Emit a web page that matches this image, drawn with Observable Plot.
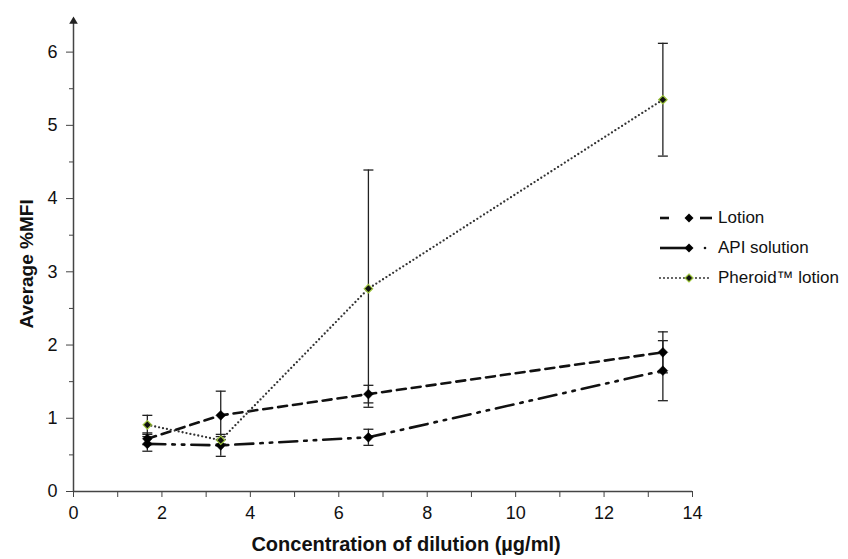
<!DOCTYPE html>
<html>
<head>
<meta charset="utf-8">
<script src="https://cdn.jsdelivr.net/npm/d3@7"></script>
<script src="https://cdn.jsdelivr.net/npm/@observablehq/plot@0.6"></script>
<style>
  html, body { margin: 0; padding: 0; background: #fff; }
  #wrap { position: relative; width: 848px; height: 559px; font-family: "Liberation Sans", Arial, sans-serif; }
  #wrap [aria-label$="tick label"] { font-size: 18px; }
  #legend { position: absolute; left: 658px; top: 203px; font-size: 17px; color: #111; white-space: nowrap; }
  #legend .row { display: flex; align-items: center; height: 30px; white-space: nowrap; }
  #legend svg { margin-right: 4px; flex: none; }
</style>
</head>
<body>
<div id="wrap"><div id="legend"></div></div>
<script>
// ---- data ----
const concentrations = [1.67, 3.33, 6.67, 13.33];
const lotionMean = [0.72, 1.04, 1.33, 1.90];
const lotionErr  = [0.08, 0.33, 0.12, 0.28];
const apiMean    = [0.65, 0.63, 0.74, 1.65];
const apiErr     = [0.10, 0.15, 0.11, 0.41];
const pheroidMean = [0.91, 0.70, 2.77, 5.35];
const pheroidErr  = [0.13, 0.05, 1.62, 0.77];
const seriesNames = ["Lotion", "API solution", "Pheroid\u2122  lotion"];
const xTickLabels = [0, 2, 4, 6, 8, 10, 12, 14];
const xMinorTicks = [1, 3, 5, 7, 9, 11, 13];
const yTickLabels = [0, 1, 2, 3, 4, 5, 6];
const yMinorTicks = [0.5, 1.5, 2.5, 3.5, 4.5, 5.5];
const xTitle = "Concentration of dilution (\u00b5g/ml)";
const yTitle = "Average %MFI";

// ---- build rows ----
const means = [lotionMean, apiMean, pheroidMean];
const errs = [lotionErr, apiErr, pheroidErr];
const rows = [];
seriesNames.forEach((s, i) => concentrations.forEach((c, j) =>
  rows.push({series: s, x: c, y: means[i][j], e: errs[i][j]})));
const bySeries = s => rows.filter(d => d.series === s);

const styles = {
  [seriesNames[0]]: {stroke: "#111", strokeWidth: 2.6, strokeDasharray: "9 6"},
  [seriesNames[1]]: {stroke: "#111", strokeWidth: 2.6, strokeDasharray: "18 7 2.5 7 2.5 7"},
  [seriesNames[2]]: {stroke: "#333", strokeWidth: 2.3, strokeDasharray: "0 4", strokeLinecap: "round"}
};

const capSymbol = {
  draw(ctx, size) { const w = Math.sqrt(size / Math.PI); ctx.moveTo(-w, 0); ctx.lineTo(w, 0); }
};

const chart = Plot.plot({
  width: 848, height: 559,
  marginLeft: 73, marginRight: 156, marginTop: 15, marginBottom: 68,
  style: {fontFamily: "'Liberation Sans', Arial, sans-serif", fontSize: "18px", color: "#111", background: "white"},
  x: {domain: [0, 14]},
  y: {domain: [0, 6.5]},
  marks: [
    // axes
    Plot.axisY({ticks: yTickLabels, tickSize: 7, tickPadding: 9, tickFormat: d => String(d), label: null, stroke: "#444"}),
    Plot.axisY({ticks: yMinorTicks, tickSize: 4, tickFormat: () => "", label: null, stroke: "#444"}),
    Plot.axisX({ticks: xTickLabels, tickSize: 6, tickPadding: 9, tickFormat: d => String(d), label: null, stroke: "#444"}),
    Plot.axisX({ticks: xMinorTicks, tickSize: 6, tickFormat: () => "", label: null, stroke: "#444"}),
    Plot.ruleY([0], {stroke: "#444", strokeWidth: 1.5}),
    Plot.ruleX([0], {y1: 0, y2: 6.45, stroke: "#444", strokeWidth: 1.5}),
    Plot.dot([6.42], {x: 0, y: d => d, symbol: "triangle", r: 3.2, fill: "#222", stroke: "none"}),
    Plot.text([xTitle], {text: d => d, frameAnchor: "bottom", dy: 59, dx: 23, fontWeight: "bold", fontSize: 20, fill: "#111"}),
    Plot.text([yTitle], {text: d => d, frameAnchor: "left", rotate: -90, dx: -47, dy: 75, fontWeight: "bold", fontSize: 19, fill: "#111"}),
    // lines
    ...seriesNames.map(s => Plot.line(bySeries(s), {x: "x", y: "y", ...styles[s]})),
    // error bars
    Plot.ruleX(rows, {x: "x", y1: d => d.y - d.e, y2: d => d.y + d.e, stroke: "#222", strokeWidth: 1.3}),
    Plot.dot(rows, {x: "x", y: d => d.y + d.e, symbol: capSymbol, r: 5, fill: "none", stroke: "#222", strokeWidth: 1.3}),
    Plot.dot(rows, {x: "x", y: d => d.y - d.e, symbol: capSymbol, r: 5, fill: "none", stroke: "#222", strokeWidth: 1.3}),
    // markers
    Plot.dot(rows.filter(d => d.series !== seriesNames[2]), {x: "x", y: "y", symbol: "diamond2", r: 4.4, fill: "#000", stroke: "#000", strokeWidth: 0.5}),
    Plot.dot(bySeries(seriesNames[2]), {x: "x", y: "y", symbol: "diamond2", r: 3.8, fill: "#111", stroke: "#9cc43c", strokeWidth: 1.2})
  ]
});
document.getElementById("wrap").prepend(chart);

// ---- legend ----
const legendSamples = [
  `<line x1="2" y1="8" x2="11" y2="8" stroke="#111" stroke-width="2.6"/><line x1="42" y1="8" x2="54" y2="8" stroke="#111" stroke-width="2.6"/><path d="M31,3.5 L35.5,8 L31,12.5 L26.5,8Z" fill="#000"/>`,
  `<line x1="2" y1="8" x2="28" y2="8" stroke="#111" stroke-width="2.6"/><circle cx="47" cy="8" r="1.3" fill="#111"/><path d="M31,3.5 L35.5,8 L31,12.5 L26.5,8Z" fill="#000"/>`,
  `<line x1="2" y1="8" x2="54" y2="8" stroke="#333" stroke-width="2" stroke-dasharray="0 4" stroke-linecap="round"/><path d="M31,4 L35,8 L31,12 L27,8Z" fill="#111" stroke="#9cc43c" stroke-width="1.2"/>`
];
const legend = document.getElementById("legend");
seriesNames.forEach((s, i) => {
  const row = document.createElement("div");
  row.className = "row";
  row.innerHTML = `<svg width="56" height="16">${legendSamples[i]}</svg><span>${s.replace(/  /g, " ")}</span>`;
  legend.appendChild(row);
});
</script>
</body>
</html>
